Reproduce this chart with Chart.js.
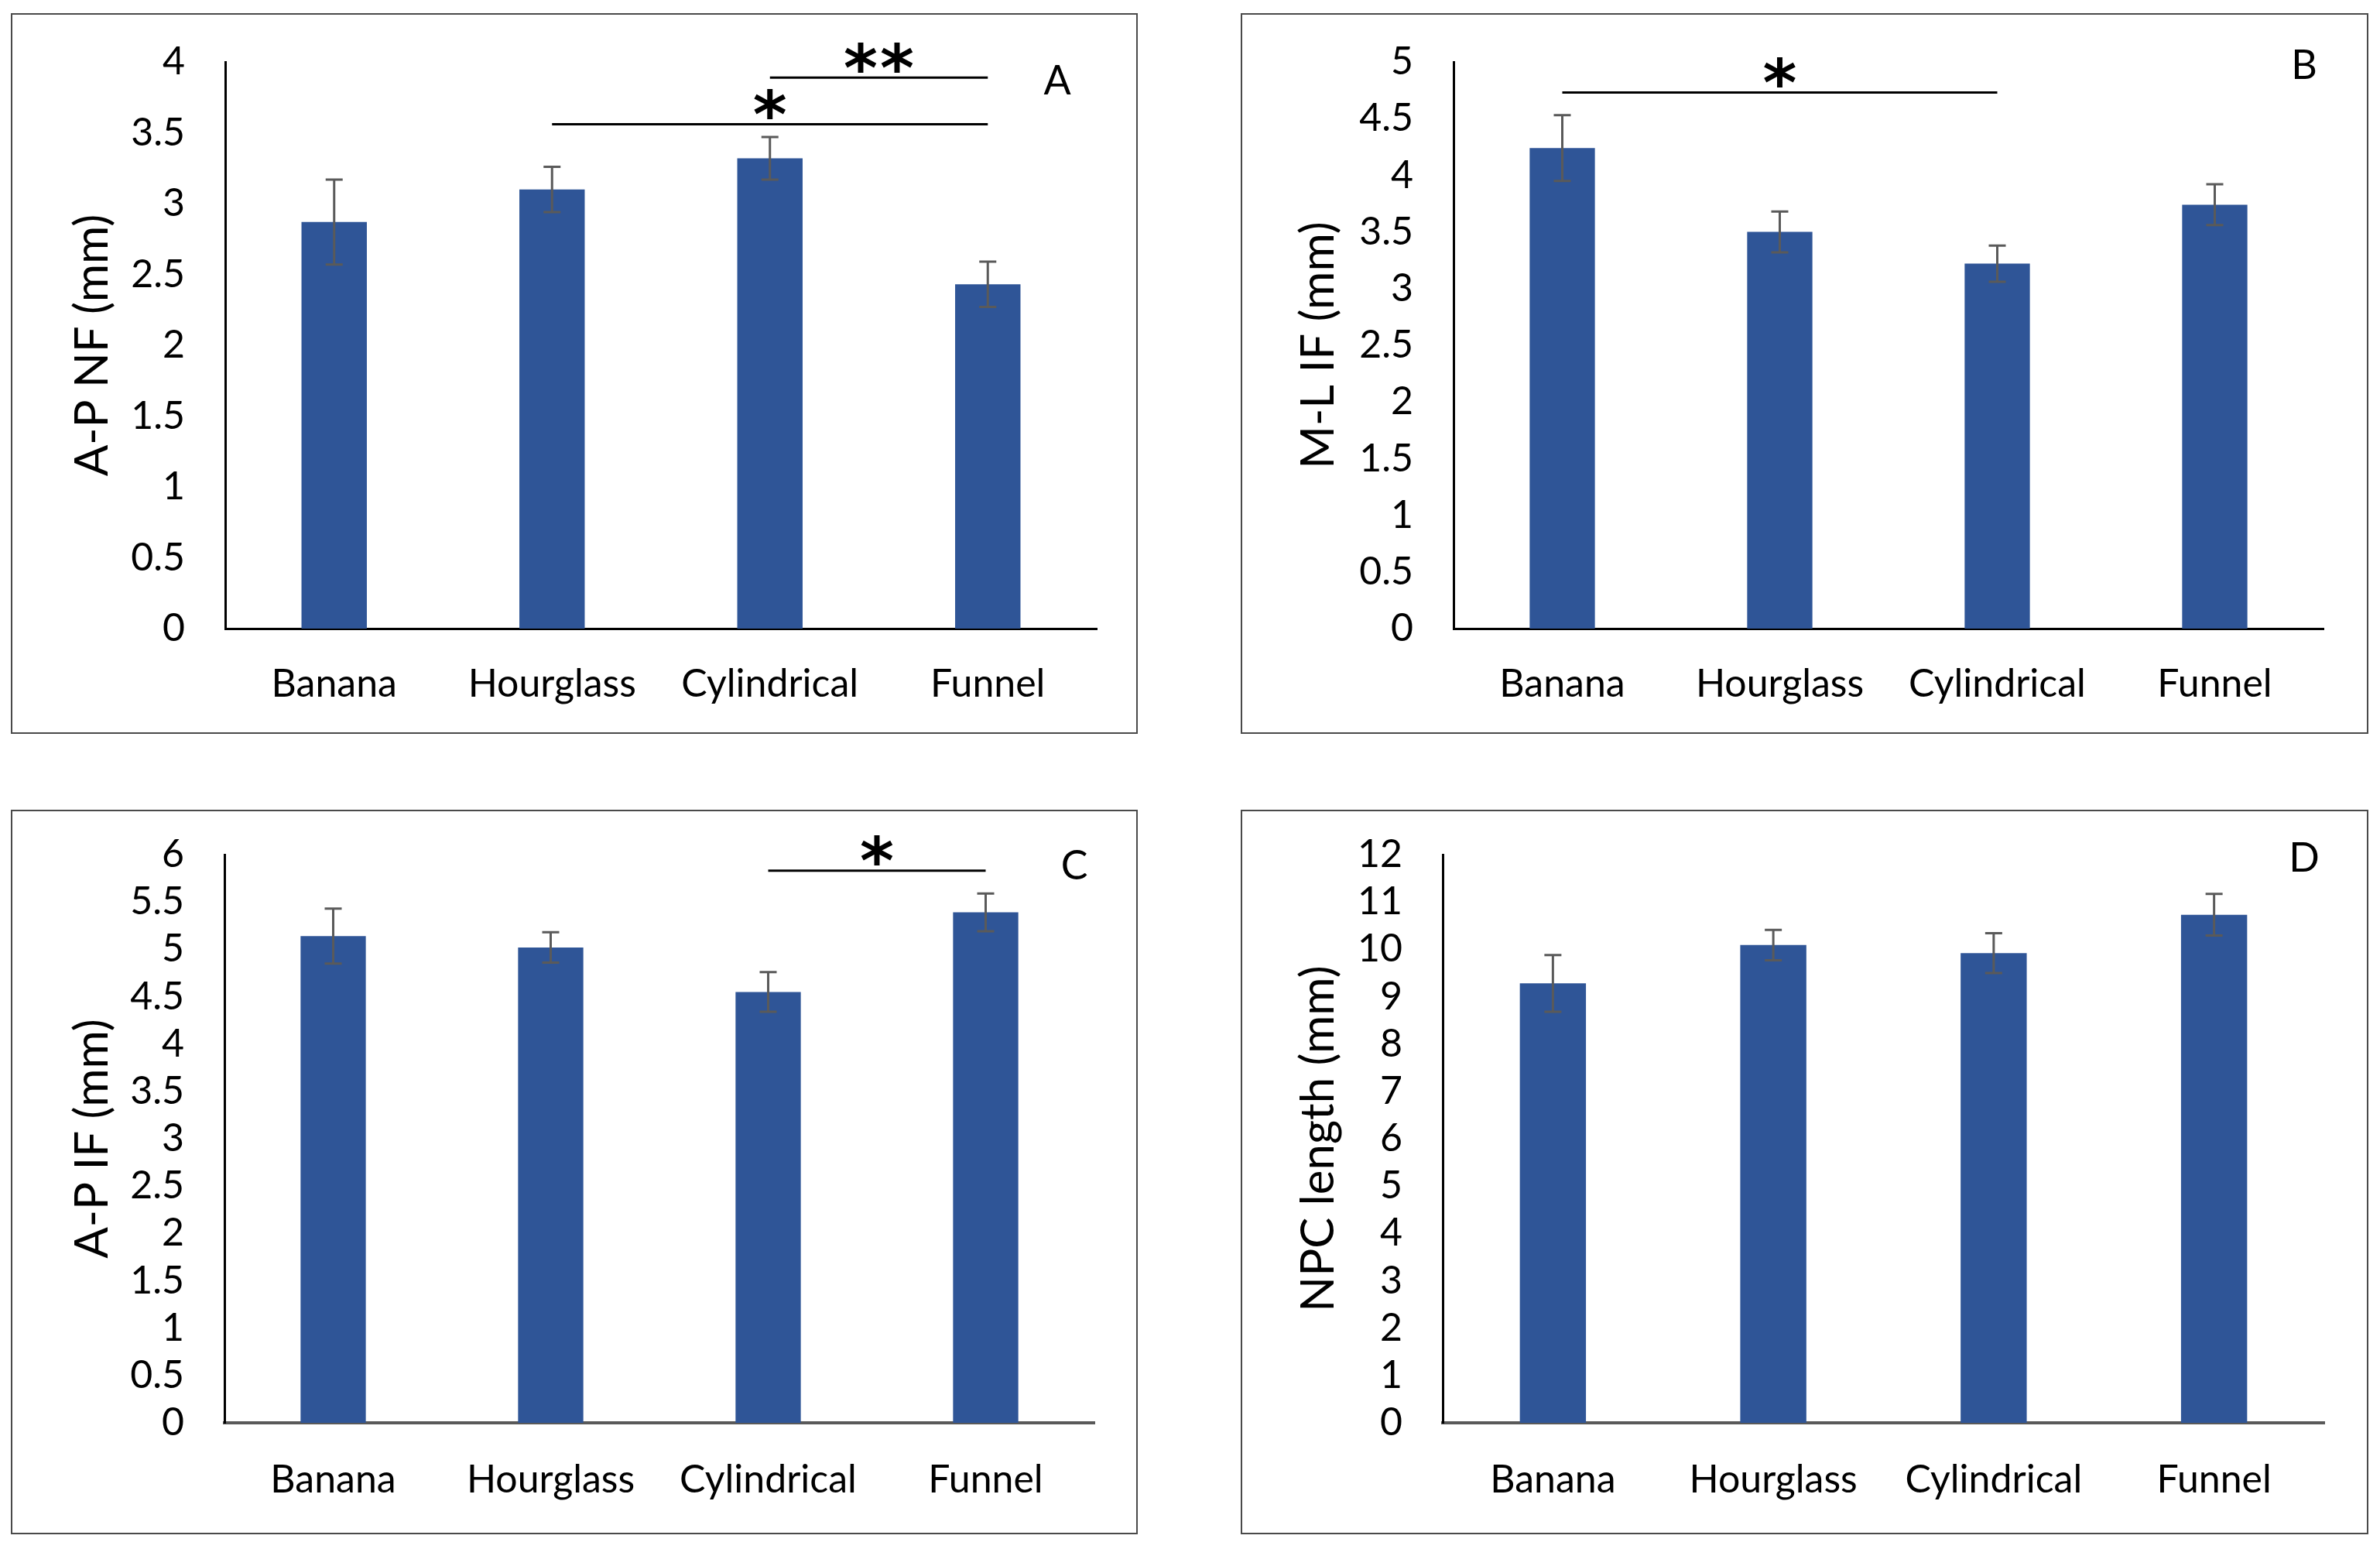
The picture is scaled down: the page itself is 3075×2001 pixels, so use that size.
<!DOCTYPE html>
<html>
<head>
<meta charset="utf-8">
<script src="https://cdn.jsdelivr.net/npm/chart.js@4.4.0/dist/chart.umd.min.js"></script>
<style>
  html,body{margin:0;padding:0;background:#fff;}
  body{width:3075px;height:2001px;position:relative;overflow:hidden;}
  .panel{position:absolute;box-sizing:border-box;border:2px solid #4a4a4a;background:#fff;}
  .panel canvas{display:block;}
</style>
</head>
<body>
<script>
// ---------------- data ----------------
const categories = ['Banana', 'Hourglass', 'Cylindrical', 'Funnel'];

const apNfMean = [2.87, 3.10, 3.32, 2.43];
const apNfErr  = [0.30, 0.16, 0.15, 0.16];

const mlIfMean = [4.24, 3.50, 3.22, 3.74];
const mlIfErr  = [0.29, 0.18, 0.16, 0.18];

const apIfMean = [5.14, 5.02, 4.55, 5.39];
const apIfErr  = [0.29, 0.16, 0.21, 0.20];

const npcMean  = [9.28, 10.09, 9.92, 10.73];
const npcErr   = [0.60, 0.32, 0.42, 0.44];

const yTitles  = ['A-P NF (mm)', 'M-L IF (mm)', 'A-P IF (mm)', 'NPC length (mm)'];
const panelLetters = ['A', 'B', 'C', 'D'];
const yMaxes   = [4, 5, 6, 12];
const ySteps   = [0.5, 0.5, 0.5, 1];

// significance brackets: category index from/to, height in data units, label
const sigA = [{from: 1, to: 3, y: 3.56, label: '*'}, {from: 2, to: 3, y: 3.89, label: '**'}];
const sigB = [{from: 0, to: 2, y: 4.73, label: '*'}];
const sigC = [{from: 2, to: 3, y: 5.83, label: '*'}];
const sigD = [];

const means  = [apNfMean, mlIfMean, apIfMean, npcMean];
const errors = [apNfErr, mlIfErr, apIfErr, npcErr];
const sigs   = [sigA, sigB, sigC, sigD];

// ---------------- layout (page pixels) ----------------
const layouts = [
  {box: [14, 17, 1470, 948],    plot: [291, 80, 1417, 812],     titleX: 120,  letter: [1366, 103],  xAxis: ['#000', 3]},
  {box: [1603, 17, 3060, 948],  plot: [1878, 80, 3002, 812],    titleX: 1704, letter: [2977, 83],   xAxis: ['#000', 3]},
  {box: [14, 1046, 1470, 1982], plot: [290, 1104, 1414, 1838],  titleX: 120,  letter: [1388, 1117], xAxis: ['#595959', 4]},
  {box: [1603, 1046, 3060, 1982], plot: [1864, 1104, 3003, 1838], titleX: 1704, letter: [2977, 1107], xAxis: ['#595959', 4]}
];
const BORDER = 2;
const FONT = 'Lato, "Open Sans", "Liberation Sans", sans-serif';

Chart.defaults.font.family = FONT;
Chart.defaults.color = '#000';

const decorPlugin = {
  id: 'decor',
  afterDatasetsDraw(chart, args, opts) {
    const ctx = chart.ctx;
    const xs = chart.scales.x, ys = chart.scales.y;
    const meta = chart.getDatasetMeta(0);
    const vals = chart.data.datasets[0].data;
    // error bars
    ctx.save();
    ctx.strokeStyle = '#5a5a5a';
    ctx.lineWidth = 3;
    opts.errors.forEach((e, i) => {
      const x = meta.data[i].x;
      const yT = ys.getPixelForValue(vals[i] + e);
      const yB = ys.getPixelForValue(vals[i] - e);
      ctx.beginPath();
      ctx.moveTo(x, yT); ctx.lineTo(x, yB);
      ctx.moveTo(x - 11, yT); ctx.lineTo(x + 11, yT);
      ctx.moveTo(x - 11, yB); ctx.lineTo(x + 11, yB);
      ctx.stroke();
    });
    ctx.restore();
    // significance lines
    ctx.save();
    opts.sig.forEach(s => {
      const x1 = xs.getPixelForValue(s.from);
      const x2 = xs.getPixelForValue(s.to);
      const y = ys.getPixelForValue(s.y);
      ctx.strokeStyle = '#000';
      ctx.lineWidth = 3;
      ctx.beginPath(); ctx.moveTo(x1, y); ctx.lineTo(x2, y); ctx.stroke();
      ctx.fillStyle = '#000';
      ctx.font = 'bold 84px "DejaVu Sans", sans-serif';
      ctx.textAlign = 'center';
      ctx.textBaseline = 'alphabetic';
      const m = ctx.measureText('*');
      const off = (m.actualBoundingBoxAscent - m.actualBoundingBoxDescent) / 2;
      const cy = y - 26;
      const n = s.label.length;
      const cx = (x1 + x2) / 2;
      for (let k = 0; k < n; k++) {
        const sx = cx + (k - (n - 1) / 2) * 47;
        ctx.fillText('*', sx, cy + off);
      }
    });
    ctx.restore();
    // panel letter
    ctx.save();
    ctx.fillStyle = '#000';
    ctx.font = '52px ' + FONT;
    ctx.textAlign = 'center';
    ctx.textBaseline = 'alphabetic';
    const m2 = ctx.measureText(opts.letter);
    const off2 = (m2.actualBoundingBoxAscent - m2.actualBoundingBoxDescent) / 2;
    ctx.fillText(opts.letter, opts.letterPos[0], opts.letterPos[1] + off2);
    ctx.restore();
  }
};

const fmt = v => String(Math.round(v * 100) / 100);

layouts.forEach((L, i) => {
  const div = document.createElement('div');
  div.className = 'panel';
  const bw = L.box[2] - L.box[0], bh = L.box[3] - L.box[1];
  div.style.left = L.box[0] + 'px';
  div.style.top = L.box[1] + 'px';
  div.style.width = bw + 'px';
  div.style.height = bh + 'px';
  const cw = bw - 2 * BORDER, ch = bh - 2 * BORDER;
  const ox = L.box[0] + BORDER, oy = L.box[1] + BORDER;
  const cv = document.createElement('canvas');
  cv.width = cw; cv.height = ch;
  cv.style.width = cw + 'px'; cv.style.height = ch + 'px';
  div.appendChild(cv);
  document.body.appendChild(div);

  const yW = L.plot[0] - ox;
  const xH = oy + ch - L.plot[3];
  const titleFont = 60, titleLH = 1.2;

  new Chart(cv.getContext('2d'), {
    type: 'bar',
    data: {
      labels: categories,
      datasets: [{
        data: means[i],
        backgroundColor: '#2F5597',
        borderWidth: 0,
        barPercentage: 0.30,
        categoryPercentage: 1.0
      }]
    },
    options: {
      responsive: false,
      animation: false,
      devicePixelRatio: 1,
      layout: {padding: {left: 0, top: L.plot[1] - oy, right: ox + cw - L.plot[2], bottom: 0}},
      plugins: {
        legend: {display: false},
        tooltip: {enabled: false},
        decor: {
          errors: errors[i],
          sig: sigs[i],
          letter: panelLetters[i],
          letterPos: [L.letter[0] - ox, L.letter[1] - oy]
        }
      },
      scales: {
        x: {
          grid: {display: false, drawTicks: false},
          border: {display: true, color: L.xAxis[0], width: L.xAxis[1]},
          ticks: {padding: (i < 2 ? 42 : 44), font: {size: 50}, color: '#000', maxRotation: 0, autoSkip: false},
          afterFit: s => { s.height = xH; s.paddingLeft = 0; s.paddingRight = 0; }
        },
        y: {
          min: 0,
          max: yMaxes[i],
          grid: {display: false, drawTicks: false},
          border: {display: true, color: '#000', width: 3},
          ticks: {stepSize: ySteps[i], padding: 52, font: {size: 50}, color: '#000', autoSkip: false, callback: fmt},
          title: {
            display: true,
            text: yTitles[i],
            color: '#000',
            font: {size: titleFont, lineHeight: titleLH},
            padding: {top: (L.titleX - ox) - titleFont * titleLH / 2, bottom: 0}
          },
          afterFit: s => { s.width = yW; s.paddingTop = 0; s.paddingBottom = 0; }
        }
      }
    },
    plugins: [decorPlugin]
  });
});
</script>
</body>
</html>
